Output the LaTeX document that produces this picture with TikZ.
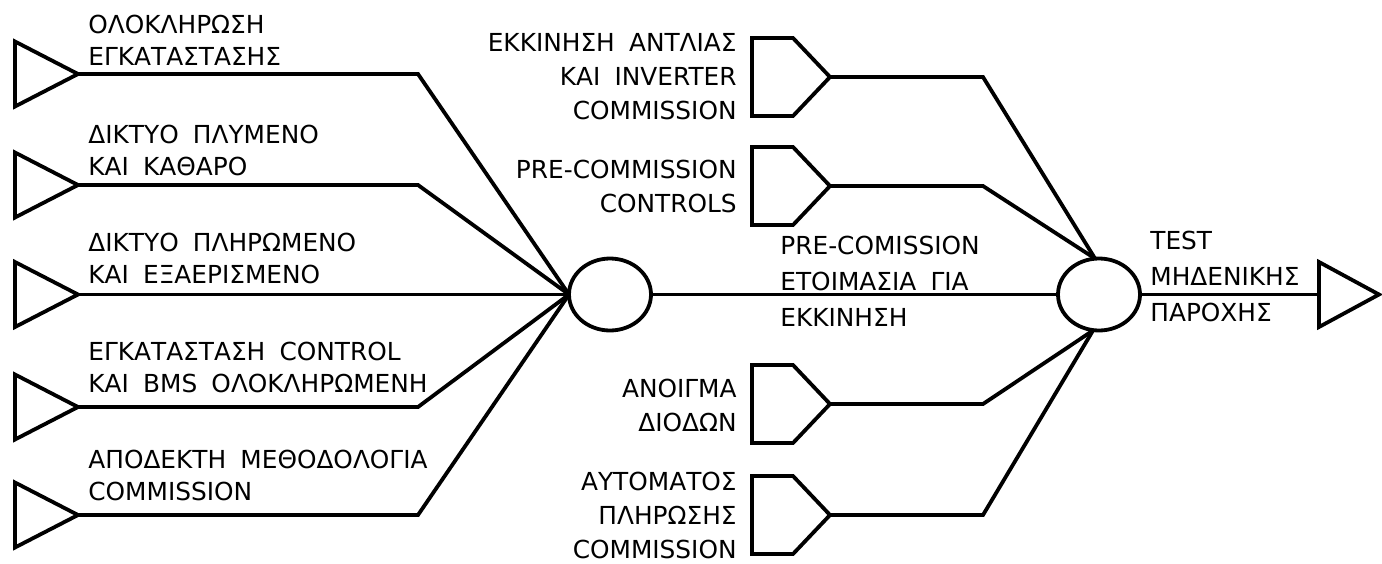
\documentclass[tikz,border=0pt]{standalone}
\usepackage{fontspec}
\setmainfont{DejaVu Sans}[WordSpace=1.8]
\usetikzlibrary{shapes.geometric}
\begin{document}
\begin{tikzpicture}[x=0.5pt,y=-0.5pt,
  sym/.style={line width=1.9pt,line join=miter},
  wire/.style={line width=1.9pt,line join=miter},
  hub/.style={draw,ellipse,line width=1.9pt,minimum width=41pt,minimum height=36pt,inner sep=0pt,outer sep=0pt},
  lbl/.style={inner sep=0pt,font=\fontsize{12.4pt}{16pt}\selectfont},
  rlbl/.style={inner sep=0pt,align=right,anchor=east,font=\fontsize{12.4pt}{17pt}\selectfont}]
\useasboundingbox (0,0) rectangle (1382,563);

% hubs
\node[hub] (lc) at (610,294.5) {};
\node[hub] (rc) at (1099,294.5) {};

% left input triangles
\foreach \n/\y in {1/74,2/185,3/294.5,4/407,5/515} {
  \draw[sym] (15,\y-32.5) -- (78,\y) -- (15,\y+32.5) -- cycle;
  \coordinate (in\n) at (78,\y);
  \coordinate (ib\n) at (418,\y);
}

% right-side pentagon flags
\foreach \n/\c in {1/77,2/186,3/404,4/515} {
  \draw[sym] (752,\c-39) -- (793,\c-39) -- (830,\c) -- (793,\c+39) -- (752,\c+39) -- cycle;
  \coordinate (pn\n) at (830,\c);
  \coordinate (pb\n) at (983,\c);
}

% output triangle
\draw[sym] (1319,262) -- (1379,294.5) -- (1319,327) -- cycle;
\coordinate (out) at (1319,294.5);

% connectors
\draw[wire] (in1) -- (ib1) -- (lc.west);
\draw[wire] (in2) -- (ib2) -- (lc.west);
\draw[wire] (in3) -- (lc.west);
\draw[wire] (in4) -- (ib4) -- (lc.west);
\draw[wire] (in5) -- (ib5) -- (lc.west);
\draw[wire] (lc.east) -- (rc.west);
\draw[wire] (pn1) -- (pb1) -- ([xshift=-2pt]rc.north);
\draw[wire] (pn2) -- (pb2) -- ([xshift=-2pt]rc.north);
\draw[wire] (pn3) -- (pb3) -- ([xshift=-3pt]rc.south);
\draw[wire] (pn4) -- (pb4) -- ([xshift=-3pt]rc.south);
\draw[wire] (rc.east) -- (out);

% left labels
\node[lbl,align=left,anchor=north west] (t1) at (88,15) {ΟΛΟΚΛΗΡΩΣΗ\\ΕΓΚΑΤΑΣΤΑΣΗΣ};
\node[lbl,align=left,anchor=north west] (t2) at (88,125) {ΔΙΚΤΥΟ ΠΛΥΜΕΝΟ\\ΚΑΙ ΚΑΘΑΡΟ};
\node[lbl,align=left,anchor=north west] (t3) at (88,233) {ΔΙΚΤΥΟ ΠΛΗΡΩΜΕΝΟ\\ΚΑΙ ΕΞΑΕΡΙΣΜΕΝΟ};
\node[lbl,align=left,anchor=north west] (t4) at (88,342) {ΕΓΚΑΤΑΣΤΑΣΗ CONTROL\\ΚΑΙ BMS ΟΛΟΚΛΗΡΩΜΕΝΗ};
\node[lbl,align=left,anchor=north west] (t5) at (88,450) {ΑΠΟΔΕΚΤΗ ΜΕΘΟΔΟΛΟΓΙΑ\\COMMISSION};

% right labels
\node[rlbl] (r1) at (737,77) {ΕΚΚΙΝΗΣΗ ΑΝΤΛΙΑΣ\\ΚΑΙ INVERTER\\COMMISSION};
\node[rlbl] (r2) at (737,186) {PRE-COMMISSION\\CONTROLS};
\node[rlbl] (r3) at (737,405) {ΑΝΟΙΓΜΑ\\ΔΙΟΔΩΝ};
\node[rlbl] (r4) at (737,515) {ΑΥΤΟΜΑΤΟΣ\\ΠΛΗΡΩΣΗΣ\\COMMISSION};

% middle and output labels
\node[inner sep=0pt,align=left,anchor=north west,font=\fontsize{12.4pt}{18pt}\selectfont] (m) at (780,236) {PRE-COMISSION\\ΕΤΟΙΜΑΣΙΑ ΓΙΑ\\ΕΚΚΙΝΗΣΗ};
\node[inner sep=0pt,align=left,anchor=north west,font=\fontsize{12.4pt}{18pt}\selectfont] (o) at (1150,231) {TEST\\ΜΗΔΕΝΙΚΗΣ\\ΠΑΡΟΧΗΣ};
\end{tikzpicture}
\end{document}
